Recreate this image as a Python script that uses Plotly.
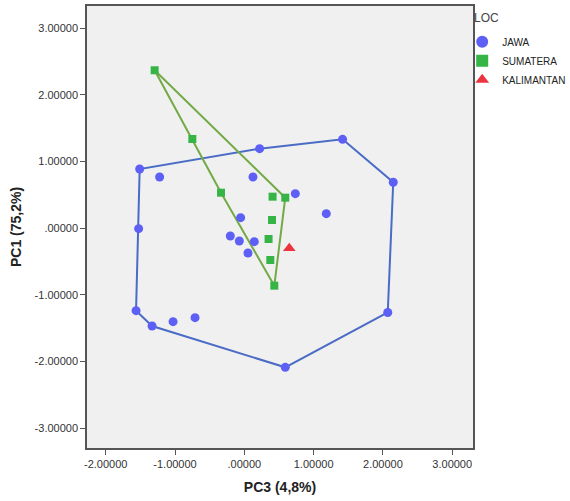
import plotly.graph_objects as go

# ---- data ----
jawa_pc3 = [1.418, 2.149, 2.070, 0.591, -1.331, -1.562, -1.525, -1.510, 0.221, -1.222,
            0.125, 0.736, 1.183, -0.053, -0.202, -0.072, 0.144, 0.053, -1.028, -0.711]
jawa_pc1 = [1.330, 0.686, -1.267, -2.090, -1.470, -1.240, -0.010, 0.885, 1.190, 0.765,
            0.765, 0.515, 0.215, 0.155, -0.120, -0.195, -0.205, -0.375, -1.405, -1.345]

sum_pc3 = [-1.294, -0.750, -0.336, 0.408, 0.591, 0.400, 0.350, 0.375, 0.433]
sum_pc1 = [2.366, 1.335, 0.530, 0.470, 0.455, 0.120, -0.165, -0.480, -0.865]

kal_pc3 = [0.649]
kal_pc1 = [-0.305]

tick_vals = [-2, -1, 0, 1, 2, 3]
x_tick_text = ["-2.00000", "-1.00000", ".00000", "1.00000", "2.00000", "3.00000"]
y_tick_vals = [-3, -2, -1, 0, 1, 2, 3]
y_tick_text = ["-3.00000", "-2.00000", "-1.00000", ".00000", "1.00000", "2.00000", "3.00000"]
legend_title = "LOC"


def convex_hull(xs, ys):
    pts = sorted(set(zip(xs, ys)))
    if len(pts) < 3:
        return pts

    def cross(o, a, b):
        return (a[0] - o[0]) * (b[1] - o[1]) - (a[1] - o[1]) * (b[0] - o[0])

    lower = []
    for p in pts:
        while len(lower) >= 2 and cross(lower[-2], lower[-1], p) <= 0:
            lower.pop()
        lower.append(p)
    upper = []
    for p in reversed(pts):
        while len(upper) >= 2 and cross(upper[-2], upper[-1], p) <= 0:
            upper.pop()
        upper.append(p)
    hull = lower[:-1] + upper[:-1]
    hull.append(hull[0])
    return hull


fig = go.Figure()

for xs, ys, col in [(jawa_pc3, jawa_pc1, "#4a6cc6"), (sum_pc3, sum_pc1, "#72aa45")]:
    h = convex_hull(xs, ys)
    fig.add_trace(go.Scatter(
        x=[p[0] for p in h], y=[p[1] for p in h], mode="lines",
        line=dict(color=col, width=2), showlegend=False, hoverinfo="skip"))

fig.add_trace(go.Scatter(x=jawa_pc3, y=jawa_pc1, mode="markers", name="JAWA",
                         marker=dict(symbol="circle", size=9, color="#5d5ff5")))
fig.add_trace(go.Scatter(x=sum_pc3, y=sum_pc1, mode="markers", name="SUMATERA",
                         marker=dict(symbol="square", size=8, color="#36b546")))
fig.add_trace(go.Scatter(x=kal_pc3, y=kal_pc1, mode="markers", name="KALIMANTAN",
                         marker=dict(symbol="triangle-up", size=11, color="#ec3340")))

axis_common = dict(showgrid=False, zeroline=False, showline=True, mirror=True,
                   linecolor="#555555", linewidth=1.5, ticks="outside", ticklen=5,
                   tickcolor="#555555", tickfont=dict(size=11, color="#333333"),
                   automargin=False)

fig.update_layout(
    width=570, height=501,
    margin=dict(l=87, r=97, t=6, b=53, autoexpand=False),
    paper_bgcolor="white", plot_bgcolor="#f0f0f0",
    font=dict(family="Liberation Sans, Arial, sans-serif", color="#333333"),
    xaxis=dict(range=[-2.27, 3.30], tickvals=tick_vals, ticktext=x_tick_text,
               title=dict(text="<b>PC3 (4,8%)</b>", font=dict(size=14, color="#222222"), standoff=13),
               **axis_common),
    yaxis=dict(range=[-3.30, 3.33], tickvals=y_tick_vals, ticktext=y_tick_text,
               title=dict(text="<b>PC1 (75,2%)</b>", font=dict(size=14, color="#222222"), standoff=10),
               **axis_common),
    legend=dict(x=0.972, y=0.952, xanchor="left", yanchor="top",
                font=dict(size=10, color="#222222"), itemsizing="constant",
                tracegroupgap=0, bgcolor="rgba(0,0,0,0)", itemwidth=30),
    annotations=[dict(text=legend_title, xref="paper", yref="paper", x=1.036, y=0.973,
                      xanchor="center", yanchor="middle", showarrow=False,
                      font=dict(size=12, color="#444444"))],
)

fig.write_html("out.html", config={"displayModeBar": False},
               post_script="document.body.style.margin='0px';document.body.style.overflow='hidden';")
